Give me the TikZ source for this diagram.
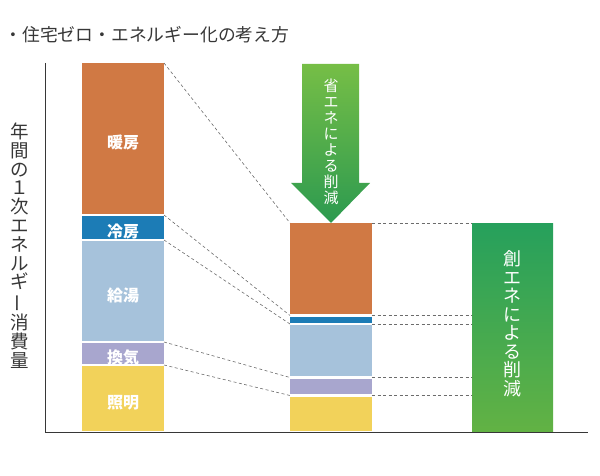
\documentclass[tikz,border=0pt]{standalone}
\usepackage{fontspec}
\newfontfamily\cjk{Noto Sans CJK JP}
\usepackage{tikz}
\usetikzlibrary{calc,fit}
\definecolor{heatc}{RGB}{208,121,68}
\definecolor{coolc}{RGB}{28,124,182}
\definecolor{waterc}{RGB}{166,194,219}
\definecolor{ventc}{RGB}{168,166,206}
\definecolor{lightc}{RGB}{242,210,90}
\definecolor{pvtop}{RGB}{38,160,92}
\definecolor{pvbot}{RGB}{98,178,68}
\definecolor{arrowtop}{RGB}{118,190,70}
\definecolor{arrowbot}{RGB}{44,154,80}
\definecolor{inkgray}{RGB}{55,55,55}
\tikzstyle{segment}=[inner sep=0pt, outer sep=0pt]
\tikzstyle{segtext}=[inner sep=0pt, text=white, font=\cjk\bfseries\fontsize{16}{16}\selectfont]
\tikzstyle{guide}=[dash pattern=on 3pt off 2.5pt, gray!85!black, line width=.6pt]
\tikzstyle{tate}=[align=center, inner sep=0pt]
\newcommand{\barseg}[6]{
	\node[segment, fill=#2, fit={(#3,#4) (#3+82,#5)}] (#1) {};
	\node[segtext] (#1-t) at ($(#1.center)+(0,4)$) {#6};
}

\begin{document}
\begin{tikzpicture}[x=1pt,y=-1pt]
	\useasboundingbox (0,0) rectangle (600,476);
	\node[anchor=west, text=inkgray, font=\cjk\fontsize{17.8}{17.8}\selectfont] (title) at (1,35) {・住宅ゼロ・エネルギー化の考え方};
	\node[tate, text=inkgray, font=\cjk\fontsize{18.5}{18.8}\selectfont] (ylab) at (20,245.5) {年\\間\\の\\１\\次\\エ\\ネ\\ル\\ギ\\\rotatebox[origin=c]{90}{ー}\\消\\費\\量};
	\draw[inkgray, line width=.8pt] (45,63) -- (45,432) -- (588,432);
	\barseg{heatL}{heatc}{82}{63}{214}{暖房}
	\barseg{coolL}{coolc}{82}{216}{239}{冷房}
	\barseg{waterL}{waterc}{82}{241}{341}{給湯}
	\barseg{ventL}{ventc}{82}{343}{364}{換気}
	\barseg{lightL}{lightc}{82}{366}{431}{照明}
	\barseg{heatM}{heatc}{290}{223}{314}{}
	\barseg{coolM}{coolc}{290}{317}{323}{}
	\barseg{waterM}{waterc}{290}{325}{376}{}
	\barseg{ventM}{ventc}{290}{379}{394}{}
	\barseg{lightM}{lightc}{290}{397}{431}{}
	\node[inner sep=0pt, outer sep=0pt, top color=pvtop, bottom color=pvbot, fit={(472,223) (553,431)}] (pv) {};
	\node[tate, text=white, font=\cjk\fontsize{18}{18.5}\selectfont] (pvtext) at ($(pv.center)+(0,-3)$) {創\\エ\\ネ\\に\\よ\\る\\削\\減};
	\shade[top color=arrowtop, bottom color=arrowbot] (302,64) -- (359,64) -- (359,183) -- (370,183) -- (heatM.north) -- (291,183) -- (302,183) -- cycle;
	\node[tate, text=white, font=\cjk\fontsize{15}{16}\selectfont] (savetext) at (331,141.5) {省\\エ\\ネ\\に\\よ\\る\\削\\減};
	\draw[guide] (heatL.north east) -- (heatM.north west);
	\draw[guide] (heatM.north east) -- (pv.north west);
	\foreach \a/\b in {heat/cool,cool/water,water/vent,vent/light}{
		\coordinate (\a-gL) at ($(\a L.south east)!.5!(\b L.north east)$);
		\coordinate (\a-gM) at ($(\a M.south west)!.5!(\b M.north west)$);
		\coordinate (\a-gR) at ($(\a M.south east)!.5!(\b M.north east)$);
		\draw[guide] (\a-gL) -- (\a-gM);
		\draw[guide] (\a-gR) -- (\a-gR -| pv.west);
	}
\end{tikzpicture}
\end{document}
